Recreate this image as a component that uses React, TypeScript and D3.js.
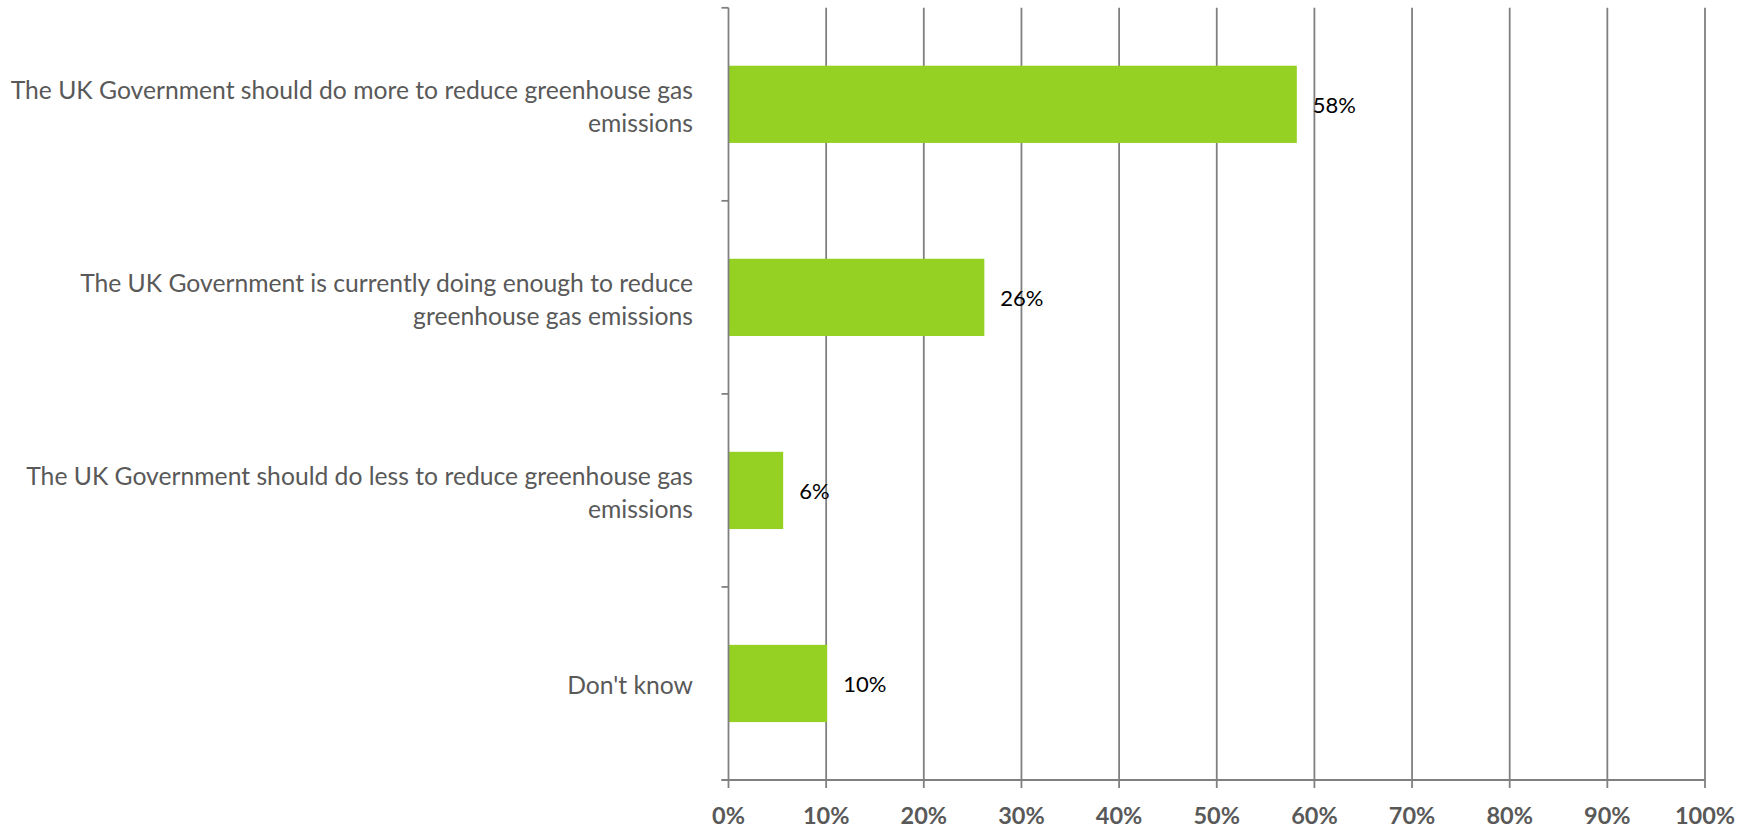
import React from "react";
import * as d3 from "d3";

const categories = [
  "The UK Government should do more to reduce greenhouse gas emissions",
  "The UK Government is currently doing enough to reduce greenhouse gas emissions",
  "The UK Government should do less to reduce greenhouse gas emissions",
  "Don't know",
];
const categoryLines = [
  ["The UK Government should do more to reduce greenhouse gas", "emissions"],
  ["The UK Government is currently doing enough to reduce", "greenhouse gas emissions"],
  ["The UK Government should do less to reduce greenhouse gas", "emissions"],
  ["Don't know"],
];
const values = [58.2, 26.2, 5.6, 10.1];
const valueLabels = ["58%", "26%", "6%", "10%"];
const xTicks = [0, 10, 20, 30, 40, 50, 60, 70, 80, 90, 100];

const W = 1752;
const H = 828;
const left = 728.5;
const right = 1705;
const top = 7.8;
const bottom = 780;
const FONT = "Lato, 'Open Sans', sans-serif";

export default function App() {
  const x = d3.scaleLinear().domain([0, 100]).range([left, right]);
  const y = d3
    .scaleBand<string>()
    .domain(categories)
    .range([top, bottom])
    .paddingInner(0.6)
    .paddingOuter(0.3);
  const boundaries = d3.range(categories.length + 1).map((i) => top + i * (bottom - top) / categories.length);
  const grid = "#808080";
  return (
    <svg
      width={W}
      height={H}
      style={{ position: "absolute", left: 0, top: 0, background: "#fff" }}
    >
      {xTicks.slice(1).map((t) => (
        <line key={"g" + t} x1={x(t)} x2={x(t)} y1={top} y2={bottom} stroke={grid} strokeWidth={1.8} />
      ))}
      {categories.map((c, i) => (
        <rect
          key={"b" + i}
          x={x(0)}
          y={y(c)}
          width={x(values[i]) - x(0)}
          height={y.bandwidth()}
          fill="#95d123"
        />
      ))}
      <line x1={left} x2={left} y1={top} y2={bottom} stroke={grid} strokeWidth={1.8} />
      {boundaries.map((b, i) => (
        <line key={"yt" + i} x1={left - 7} x2={left} y1={b} y2={b} stroke={grid} strokeWidth={1.8} />
      ))}
      <line x1={left - 7} x2={right} y1={bottom} y2={bottom} stroke={grid} strokeWidth={1.8} />
      {xTicks.map((t) => (
        <line key={"xt" + t} x1={x(t)} x2={x(t)} y1={bottom} y2={bottom + 8} stroke={grid} strokeWidth={1.8} />
      ))}
      {xTicks.map((t) => (
        <text
          key={"xl" + t}
          x={x(t)}
          y={bottom + 35}
          textAnchor="middle"
          dominantBaseline="central"
          fontFamily={FONT}
          fontWeight="bold"
          fontSize={23.5}
          fill="#595959"
        >
          {t + "%"}
        </text>
      ))}
      {categories.map((c, i) => {
        const cy = (y(c) as number) + y.bandwidth() / 2 + 1.5;
        const lines = categoryLines[i];
        const lh = 33.5;
        return (
          <text key={"cl" + i} textAnchor="end" fontFamily={FONT} fontSize={24.7} fill="#595959">
            {lines.map((ln, j) => (
              <tspan
                key={j}
                x={693}
                y={cy + (j - (lines.length - 1) / 2) * lh}
                dominantBaseline="central"
              >
                {ln}
              </tspan>
            ))}
          </text>
        );
      })}
      {categories.map((c, i) => (
        <text
          key={"vl" + i}
          x={x(values[i]) + 16}
          y={(y(c) as number) + y.bandwidth() / 2}
          dominantBaseline="central"
          fontFamily={FONT}
          fontSize={22}
          fill="#000"
        >
          {valueLabels[i]}
        </text>
      ))}
    </svg>
  );
}
